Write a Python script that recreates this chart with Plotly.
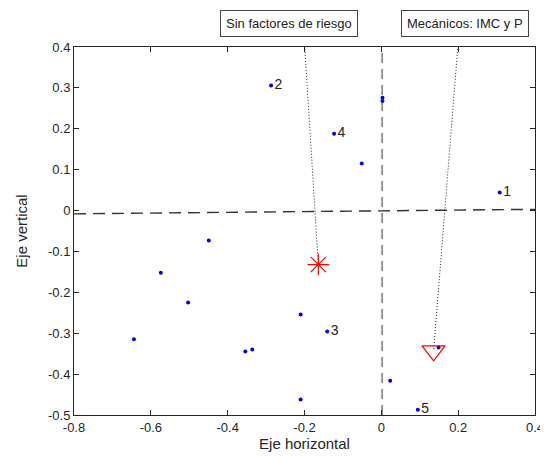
import plotly.graph_objects as go

# puntos del biplot
x_pts = [0.308, -0.287, -0.141, -0.123, 0.095, 0.003, 0.003, -0.051, -0.449,
         -0.574, -0.503, -0.644, -0.354, -0.336, -0.210, -0.210, 0.023, 0.149]
y_pts = [0.044, 0.306, -0.296, 0.188, -0.487, 0.276, 0.268, 0.115, -0.073,
         -0.152, -0.225, -0.315, -0.345, -0.340, -0.254, -0.462, -0.416, -0.335]
etiquetas = ["1", "2", "3", "4", "5", "", "", "", "",
             "", "", "", "", "", "", "", "", ""]

# centroides de grupo
sin_riesgo = (-0.164, -0.132)
mecanicos = (0.136, -0.343)

# ejes de referencia (discontinuos)
eje_h_x = [-0.8, 0.4]
eje_h_y = [-0.008, 0.003]
eje_v_x = [0.002, 0.002]
eje_v_y = [-0.5, 0.4]

# origen de las flechas punteadas (junto a los cuadros de texto)
flecha1_top = (-0.2, 0.41)
flecha2_top = (0.2, 0.41)

FONT = "Liberation Sans, Arial, sans-serif"
AX = "#262626"

fig = go.Figure()

fig.add_trace(go.Scatter(x=eje_h_x, y=eje_h_y, mode="lines",
                         line=dict(color="#333333", width=1.4, dash="12px,7px"),
                         hoverinfo="skip"))
fig.add_trace(go.Scatter(x=eje_v_x, y=eje_v_y, mode="lines",
                         line=dict(color="#3a3a3a", width=1, dash="10px,6px"),
                         hoverinfo="skip"))

for top, pt in [(flecha1_top, sin_riesgo), (flecha2_top, mecanicos)]:
    fig.add_trace(go.Scatter(x=[top[0], pt[0]], y=[top[1], pt[1]], mode="lines",
                             line=dict(color="#222222", width=1, dash="1px,2px"),
                             cliponaxis=False, hoverinfo="skip"))

fig.add_trace(go.Scatter(x=x_pts, y=y_pts, mode="markers+text",
                         text=etiquetas, textposition="middle right",
                         textfont=dict(family=FONT, size=14, color="#222222"),
                         marker=dict(color="#0000dd", size=4)))

fig.add_trace(go.Scatter(x=[sin_riesgo[0]], y=[sin_riesgo[1]], mode="markers",
                         marker=dict(symbol="asterisk-open", size=18, color="red",
                                     line=dict(color="red", width=1.2))))
fig.add_trace(go.Scatter(x=[mecanicos[0]], y=[mecanicos[1]], mode="markers",
                         marker=dict(symbol="triangle-down-open", size=20, color="red",
                                     line=dict(color="red", width=1.3))))

axis_common = dict(showgrid=False, zeroline=False, showline=True, linecolor=AX,
                   linewidth=1, mirror="ticks", ticks="inside", ticklen=5,
                   tickcolor=AX, tickfont=dict(family=FONT, size=13, color=AX))

fig.update_xaxes(range=[-0.8, 0.4], tickvals=[-0.8, -0.6, -0.4, -0.2, 0, 0.2, 0.4],
                 ticktext=["-0.8", "-0.6", "-0.4", "-0.2", "0", "0.2", "0.4"],
                 title=dict(text="Eje horizontal", font=dict(family=FONT, size=15, color=AX),
                            standoff=4),
                 **axis_common)
fig.update_yaxes(range=[-0.5, 0.4], tickvals=[-0.5, -0.4, -0.3, -0.2, -0.1, 0, 0.1, 0.2, 0.3, 0.4],
                 ticktext=["-0.5", "-0.4", "-0.3", "-0.2", "-0.1", "0", "0.1", "0.2", "0.3", "0.4"],
                 title=dict(text="Eje vertical", font=dict(family=FONT, size=15, color=AX),
                            standoff=16),
                 **axis_common)

for txt, xp in [("Sin factores de riesgo", 0.467), ("Mecánicos: IMC y P", 0.849)]:
    fig.add_annotation(text=txt, xref="paper", yref="paper", x=xp, y=1.063,
                       xanchor="center", yanchor="middle",
                       showarrow=False, bgcolor="white", bordercolor="#444444",
                       borderwidth=1, borderpad=5,
                       font=dict(family=FONT, size=13, color="#222222"))

fig.update_layout(width=548, height=458, showlegend=False,
                  margin=dict(l=66, r=14, t=39, b=51),
                  plot_bgcolor="white", paper_bgcolor="white")

fig.write_html("out.html")
